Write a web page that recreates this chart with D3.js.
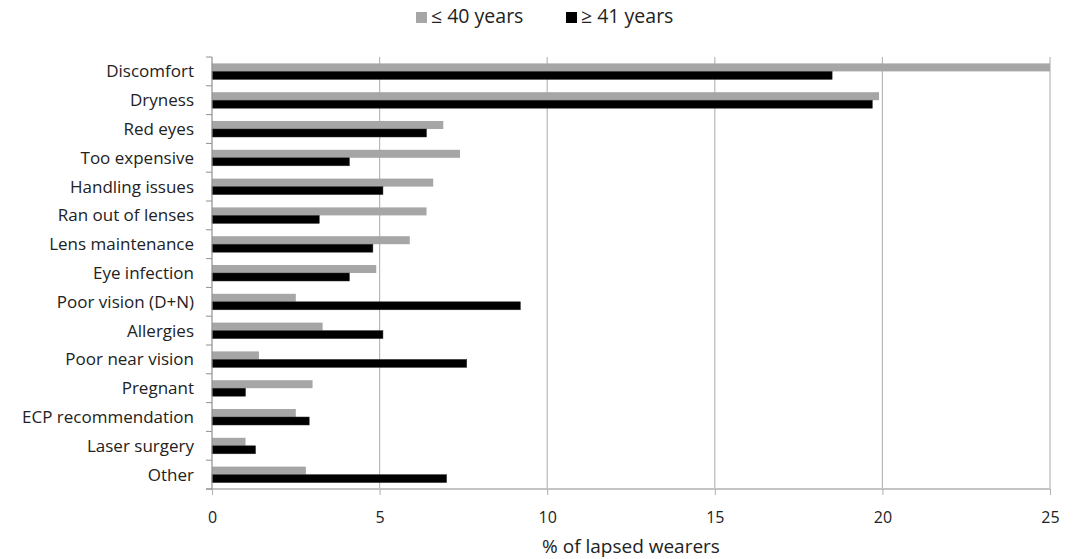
<!DOCTYPE html>
<html><head><meta charset="utf-8">
<script src="https://cdn.jsdelivr.net/npm/d3@7"></script>
<style>body{margin:0;background:#fff}</style>
</head><body>
<svg id="c" width="1086" height="559"></svg>
<script>
const categories = ["Discomfort","Dryness","Red eyes","Too expensive","Handling issues","Ran out of lenses","Lens maintenance","Eye infection","Poor vision (D+N)","Allergies","Poor near vision","Pregnant","ECP recommendation","Laser surgery","Other"];
const seriesNames = ["≤ 40 years","≥ 41 years"];
const young = [25,19.9,6.9,7.4,6.6,6.4,5.9,4.9,2.5,3.3,1.4,3.0,2.5,1.0,2.8];
const old = [18.5,19.7,6.4,4.1,5.1,3.2,4.8,4.1,9.2,5.1,7.6,1.0,2.9,1.3,7.0];
const xTicks = [0,5,10,15,20,25];
const colors = ["#a6a6a6","#000000"];

const svg = d3.select("#c");
const font = "'Open Sans', sans-serif";
const m = {left:212, right:1050, top:57, bottom:489};
const x = d3.scaleLinear().domain([0,25]).range([m.left, m.right]);
const y = d3.scaleBand().domain(categories).range([m.top, m.bottom]);
const inner = d3.scaleBand().domain(seriesNames).range([0, y.bandwidth()]).paddingOuter(0.8).paddingInner(0);

// gridlines
svg.append("g").selectAll("line").data(xTicks.slice(1)).join("line")
  .attr("x1", d=>x(d)).attr("x2", d=>x(d)).attr("y1", m.top).attr("y2", m.bottom)
  .attr("stroke", "#b8b8b8").attr("stroke-width", 1.2);

// bars
const data = categories.map((c,i)=>({c, vals:[young[i], old[i]]}));
const g = svg.append("g");
data.forEach(d=>{
  d.vals.forEach((v,j)=>{
    g.append("rect")
      .attr("x", x(0)).attr("y", y(d.c)+inner(seriesNames[j]))
      .attr("width", x(v)-x(0)).attr("height", inner.bandwidth())
      .attr("fill", colors[j])
      .attr("stroke", j===1 ? "#333" : "none").attr("stroke-width", 0.5);
  });
});

// bottom axis
const xAxis = d3.axisBottom(x).tickValues(xTicks).tickSize(6).tickPadding(17);
const gx = svg.append("g").attr("transform", `translate(0,${m.bottom})`).call(xAxis);
gx.select(".domain").attr("stroke", "#c4c4c4").attr("stroke-width", 2).attr("d", `M${m.left-6},0H${m.right}`);
gx.selectAll(".tick line").attr("stroke", "#b0b0b0");
gx.selectAll("text").attr("font-family", font).attr("font-size", 16).attr("fill", "#222");

// left axis
const gy = svg.append("g");
gy.append("line").attr("x1", m.left).attr("x2", m.left).attr("y1", m.top).attr("y2", m.bottom).attr("stroke", "#909090").attr("stroke-width", 1.2);
const bounds = categories.map(c=>y(c)).concat([m.bottom]);
gy.selectAll("line.t").data(bounds).join("line").attr("class","t")
  .attr("x1", m.left-6).attr("x2", m.left).attr("y1", d=>d).attr("y2", d=>d)
  .attr("stroke", "#909090");
gy.selectAll("text").data(categories).join("text")
  .attr("x", m.left-18).attr("y", d=>y(d)+y.bandwidth()/2)
  .attr("dy", "0.35em").attr("text-anchor", "end")
  .attr("font-family", font).attr("font-size", 17).attr("fill", "#222")
  .text(d=>d);

// axis title
svg.append("text").attr("x", (m.left+m.right)/2).attr("y", 553).attr("text-anchor","middle")
  .attr("font-family", font).attr("font-size", 19).attr("fill", "#222").text("% of lapsed wearers");

// legend
const leg = svg.append("g");
const legX = [416, 566];
seriesNames.forEach((s,i)=>{
  leg.append("rect").attr("x", legX[i]).attr("y", 12).attr("width", 11).attr("height", 11).attr("fill", colors[i]);
  leg.append("text").attr("x", legX[i]+15).attr("y", 23)
    .attr("font-family", font).attr("font-size", 19.5).attr("fill", "#222").text(s);
});
</script>
</body></html>
